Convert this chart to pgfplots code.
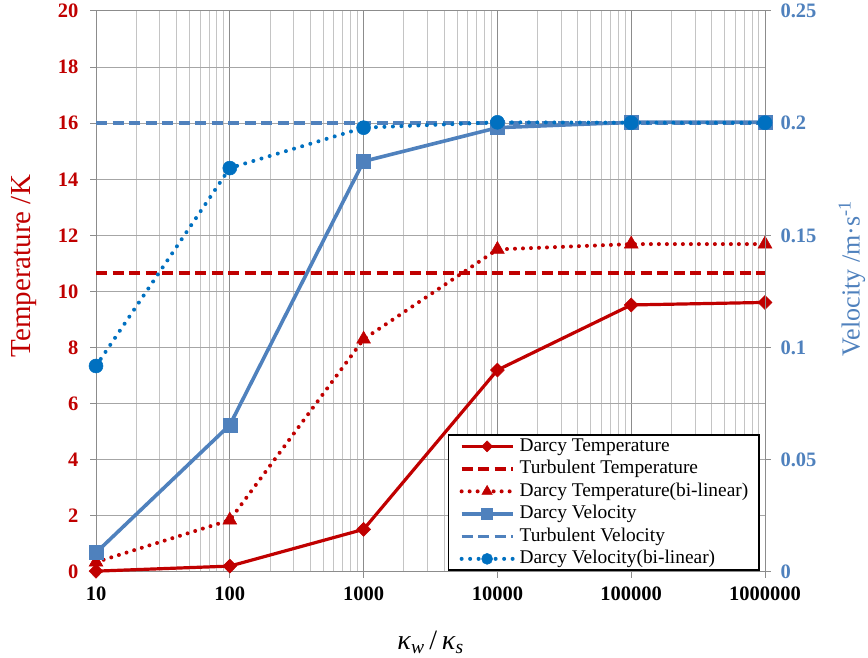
\documentclass[border=0pt]{standalone}
\usepackage{pgfplots}
\pgfplotsset{compat=1.18}
\usepackage{fontspec}
\setmainfont{Liberation Serif}
\definecolor{tred}{HTML}{C00000}
\definecolor{vblue}{HTML}{4F81BD}
\definecolor{vblue2}{HTML}{0070C0}
\definecolor{gmaj}{HTML}{8C8C8C}
\definecolor{gmin}{HTML}{C4C4C4}
\definecolor{ghor}{HTML}{A6A6A6}
\tikzset{
  dtS/.style={tred, line width=3.2pt, mark=diamond*},
  ttS/.style={tred, line width=3.5pt, dash pattern=on 11pt off 5.5pt},
  dtbS/.style={tred, line width=4pt, line cap=round, dash pattern=on 0pt off 8pt, mark=triangle*},
  dvS/.style={vblue, line width=3.6pt, mark=square*},
  tvS/.style={vblue, line width=3.5pt, dash pattern=on 11pt off 5.5pt},
  dvbS/.style={vblue2, line width=4pt, line cap=round, dash pattern=on 0pt off 8.5pt, mark=*},
}
\begin{document}
\begin{tikzpicture}
\useasboundingbox (-96pt,-86pt) rectangle (772pt,572pt);
\begin{axis}[scale only axis, width=669pt, height=561pt, xmode=log, log basis x=10,
  xmin=10, xmax=1000000, clip=false,
  tick align=outside, major tick length=6pt, minor tick length=0pt,
  /pgf/number format/assume math mode=true,
  axis line style={gmaj, line width=1pt},
  tick style={gmaj, line width=1pt},
  ymin=0, ymax=20, ytick={0,2,...,20},
  xtick pos=bottom, ytick pos=left,
  xtick={10,100,1000,10000,100000,1000000},
  xticklabels={10,100,1000,10000,100000,1000000},
  minor xtick={20,30,40,50,60,70,80,90,200,300,400,500,600,700,800,900,2000,3000,4000,5000,6000,7000,8000,9000,20000,30000,40000,50000,60000,70000,80000,90000,200000,300000,400000,500000,600000,700000,800000,900000},
  xmajorgrids, xminorgrids, ymajorgrids,
  major x grid style={gmaj, line width=1pt},
  minor x grid style={gmin, line width=1pt},
  major y grid style={ghor, line width=1pt},
  xticklabel style={font=\bfseries\fontsize{20.5}{20.5}\selectfont, text=black, yshift=-5pt},
  yticklabel style={font=\bfseries\fontsize{20.5}{20.5}\selectfont, text=tred, xshift=-8pt},
  ylabel={Temperature /K},
  ylabel style={at={(axis description cs:-0.107,0.545)}, anchor=center, font=\fontsize{29}{29}\selectfont, text=tred},
  xlabel={\textit{κ}\textsubscript{\textit{w}}\,/\,\textit{κ}\textsubscript{\textit{s}}},
  xlabel style={at={(axis description cs:0.5,-0.139)}, anchor=base, font=\fontsize{28}{28}\selectfont},
]
\addplot[dtS, mark options={solid, line width=0.5pt, xscale=1.33}, mark size=7pt] coordinates {(10,0.03)(100,0.21)(1000,1.52)(10000,7.2)(100000,9.52)(1000000,9.61)};
\addplot[ttS] coordinates {(10,10.66)(1000000,10.66)};
\addplot[dtbS, mark options={solid, line width=0.5pt}, mark size=8pt] coordinates {(10,0.35)(100,1.85)(1000,8.3)(10000,11.5)(100000,11.69)(1000000,11.69)};
\end{axis}
\begin{axis}[scale only axis, width=669pt, height=561pt, xmode=log, log basis x=10,
  xmin=10, xmax=1000000, clip=false,
  tick align=outside, major tick length=6pt, minor tick length=0pt,
  axis line style={gmaj, line width=1pt},
  tick style={gmaj, line width=1pt},
  axis x line=none, axis y line*=right,
  ymin=0, ymax=0.25,
  ytick={0,0.05,0.1,0.15,0.2,0.25},
  yticklabels={0,0.05,0.1,0.15,0.2,0.25},
  yticklabel style={font=\bfseries\fontsize{20.5}{20.5}\selectfont, text=vblue, xshift=6pt},
  ylabel={Velocity /m·s\textsuperscript{-1}},
  ylabel style={at={(axis description cs:1.130,0.523)}, anchor=center, font=\fontsize{26}{26}\selectfont, text=vblue},
  legend cell align=left,
  legend image code/.code={\draw[mark repeat=2,mark phase=2] plot coordinates {(0pt,0pt)(25.5pt,0pt)(51pt,0pt)};},
  legend style={at={(axis description cs:0.9925,0.002)}, anchor=south east, draw=black, line width=1.5pt, fill=white,
    inner xsep=11pt, inner ysep=2pt, row sep=4pt, column sep=5pt,
    font=\fontsize{19.4}{19.4}\selectfont,
    nodes={inner sep=0pt, text height=14pt, text depth=4.5pt}},
]
\addlegendimage{dtS, mark options={solid, line width=0.5pt, xscale=1.33}, mark size=5.5pt}
\addlegendentry{Darcy Temperature}
\addlegendimage{ttS}
\addlegendentry{Turbulent Temperature}
\addlegendimage{dtbS, mark options={solid, line width=0.5pt}, mark size=6pt}
\addlegendentry{Darcy Temperature(bi-linear)}
\addlegendimage{dvS, mark options={solid, line width=0.5pt}, mark size=5.5pt}
\addlegendentry{Darcy Velocity}
\addlegendimage{tvS}
\addlegendentry{Turbulent Velocity}
\addlegendimage{dvbS, mark options={solid, line width=0.5pt}, mark size=5.5pt}
\addlegendentry{Darcy Velocity(bi-linear)}
\addplot[dvS, mark options={solid, line width=0.5pt}, mark size=7pt, forget plot] coordinates {(10,0.0086)(100,0.0655)(1000,0.183)(10000,0.198)(100000,0.2004)(1000000,0.2004)};
\addplot[tvS, forget plot] coordinates {(10,0.2)(1000000,0.2)};
\addplot[dvbS, mark options={solid, line width=0.5pt}, mark size=7pt, forget plot] coordinates {(10,0.0918)(100,0.180)(1000,0.198)(10000,0.2004)(100000,0.2002)(1000000,0.2002)};
\end{axis}
\end{tikzpicture}
\end{document}
